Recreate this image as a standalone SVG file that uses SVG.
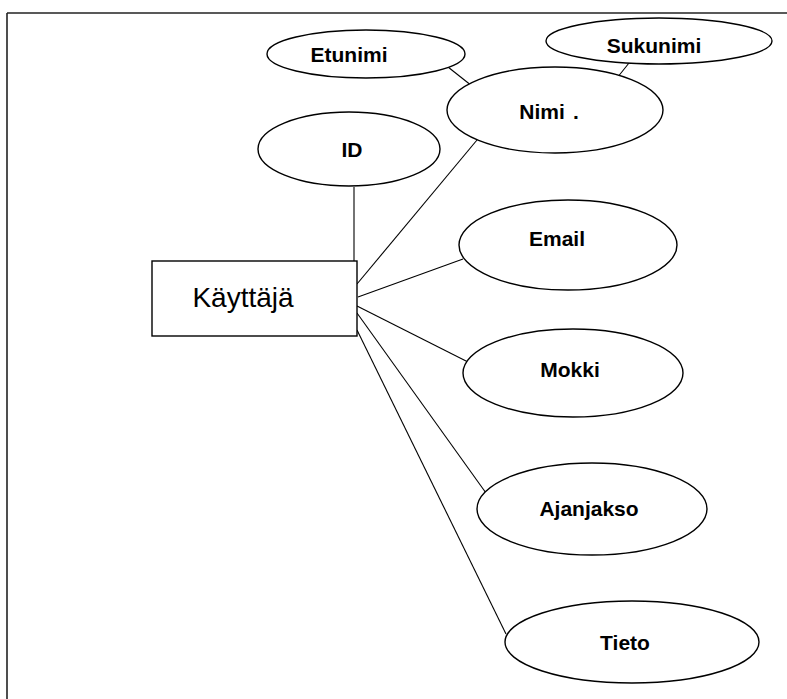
<svg xmlns="http://www.w3.org/2000/svg" width="787" height="699" viewBox="0 0 787 699">
<style>
.attr{fill:#fff;stroke:#000;stroke-width:1.4}
.lbl{font-family:"Liberation Sans",Arial,sans-serif;font-weight:bold;font-size:21px;text-anchor:middle;fill:#000}
.conn line{stroke:#000;stroke-width:1.1}
</style>
<rect x="0" y="0" width="787" height="699" fill="#fff"/>
<g id="frame" stroke="#222" stroke-width="1.6" fill="none">
<line x1="7" y1="13" x2="787" y2="13"/>
<line x1="7" y1="13" x2="7" y2="699"/>
</g>
<g id="connectors" class="conn">
<line x1="448" y1="67" x2="472" y2="86"/>
<line x1="629" y1="63" x2="617" y2="78"/>
<line x1="354" y1="187" x2="354" y2="261"/>
<line x1="477" y1="140" x2="357" y2="284"/>
<line x1="463" y1="259" x2="358" y2="297"/>
<line x1="468" y1="362" x2="357" y2="306"/>
<line x1="486" y1="493" x2="357" y2="313"/>
<line x1="506" y1="634" x2="357" y2="330"/>
</g>
<g id="kayttaja">
<rect x="152" y="261" width="205" height="75" fill="#fff" stroke="#000" stroke-width="1.4"/>
<text x="243" y="307" font-family="'Liberation Sans',Arial,sans-serif" font-size="28" text-anchor="middle">Käyttäjä</text>
</g>
<g id="etunimi">
<ellipse class="attr" cx="366" cy="54" rx="99" ry="24"/>
<text class="lbl" x="349" y="62">Etunimi</text>
</g>
<g id="sukunimi">
<ellipse class="attr" cx="659" cy="41" rx="113" ry="23"/>
<text class="lbl" x="654" y="53">Sukunimi</text>
</g>
<g id="nimi">
<ellipse class="attr" cx="555" cy="110" rx="108" ry="43"/>
<text class="lbl" x="542" y="119">Nimi</text>
<text class="lbl" x="576" y="119" font-size="12">.</text>
</g>
<g id="id">
<ellipse class="attr" cx="349" cy="149" rx="91" ry="37"/>
<text class="lbl" x="352" y="157">ID</text>
</g>
<g id="email">
<ellipse class="attr" cx="568" cy="245" rx="109" ry="45"/>
<text class="lbl" x="557" y="246">Email</text>
</g>
<g id="mokki">
<ellipse class="attr" cx="573" cy="373" rx="110" ry="44"/>
<text class="lbl" x="570" y="377">Mokki</text>
</g>
<g id="ajanjakso">
<ellipse class="attr" cx="592" cy="509" rx="115" ry="46"/>
<text class="lbl" x="589" y="516">Ajanjakso</text>
</g>
<g id="tieto">
<ellipse class="attr" cx="632" cy="642" rx="127" ry="41"/>
<text class="lbl" x="625" y="650">Tieto</text>
</g>
</svg>
